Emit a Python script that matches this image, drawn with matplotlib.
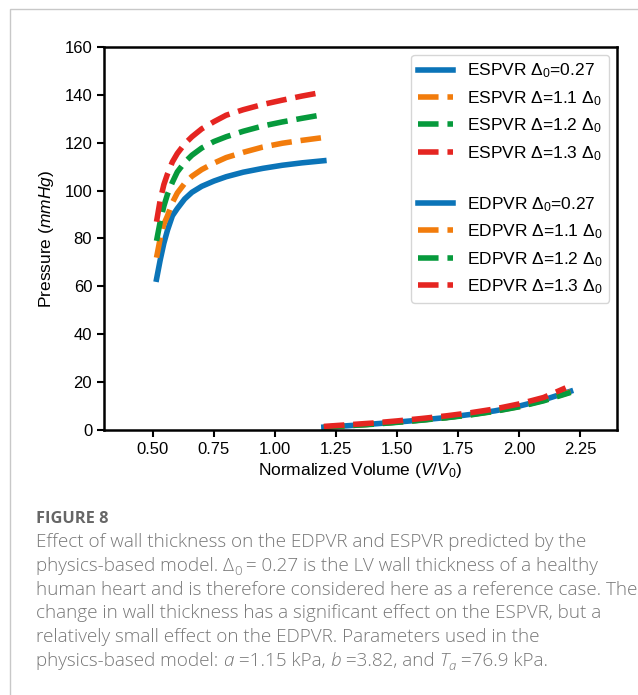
import numpy as np
import matplotlib
matplotlib.use("Agg")
import matplotlib.pyplot as plt
from matplotlib.patches import Rectangle

plt.rcParams['font.family'] = ['Liberation Sans', 'DejaVu Sans']
plt.rcParams['mathtext.fontset'] = 'custom'
plt.rcParams['mathtext.rm'] = 'Liberation Sans'
plt.rcParams['mathtext.it'] = 'Liberation Sans:italic'
plt.rcParams['mathtext.bf'] = 'Liberation Sans:bold'

# ESPVR curves (end-systolic)
es_v = [0.515, 0.53, 0.545, 0.56, 0.58, 0.60, 0.63, 0.66, 0.70, 0.75, 0.80, 0.87, 0.95, 1.03, 1.11, 1.20]
es_p0 = [63, 71, 78, 83.5, 89.5, 92.5, 96.5, 99.3, 101.8, 104, 105.8, 107.7, 109.3, 110.6, 111.6, 112.5]
es_p11 = [72, 80, 86, 89.5, 95, 99, 103, 106, 108.8, 111.5, 113.8, 116, 118.2, 119.8, 121, 122.2]
es_p12 = [79, 87, 93.5, 98.5, 103.5, 107.8, 111.8, 114.8, 117.8, 120.5, 122.5, 124.8, 127, 128.7, 130.2, 131.8]
es_p13 = [87, 96, 102.5, 107, 112, 115.5, 119.5, 122.5, 125.8, 128.8, 131.5, 133.8, 136, 137.8, 139.5, 141.2]

# EDPVR curves (end-diastolic)
ed_v = [1.20, 1.30, 1.40, 1.50, 1.60, 1.70, 1.80, 1.90, 2.00, 2.10, 2.21]
ed_p0 = [1.2, 1.8, 2.5, 3.3, 4.2, 5.2, 6.5, 8.0, 10.0, 12.6, 16.2]
ed_p11 = [1.2, 1.8, 2.5, 3.3, 4.2, 5.2, 6.4, 7.9, 9.8, 12.4, 15.9]
ed_p12 = [1.2, 1.8, 2.4, 3.2, 4.1, 5.1, 6.3, 7.8, 9.7, 12.2, 15.7]
ed_v13 = [1.20, 1.30, 1.40, 1.50, 1.60, 1.70, 1.80, 1.90, 2.00, 2.10, 2.19]
ed_p13 = [1.5, 2.2, 2.9, 3.8, 4.8, 5.9, 7.2, 8.8, 10.9, 13.6, 17.6]

es_lab = [r'ESPVR $\Delta_0$=0.27', r'ESPVR $\Delta$=1.1 $\Delta_0$',
          r'ESPVR $\Delta$=1.2 $\Delta_0$', r'ESPVR $\Delta$=1.3 $\Delta_0$']
ed_lab = [r'EDPVR $\Delta_0$=0.27', r'EDPVR $\Delta$=1.1 $\Delta_0$',
          r'EDPVR $\Delta$=1.2 $\Delta_0$', r'EDPVR $\Delta$=1.3 $\Delta_0$']
cols = ['#0b74b8', '#f27c0c', '#069a3c', '#e52521']
styles = ['-', '--', '--', '--']

# caption lines as (text, style) pieces: n=normal, i=italic, s=subscript, si=italic subscript
caption = [
    [("Effect of wall thickness on the EDPVR and ESPVR predicted by the", 'n')],
    [("physics-based model. \u0394", 'n'), ("0", 's'),
     (" = 0.27 is the LV wall thickness of a healthy", 'n')],
    [("human heart and is therefore considered here as a reference case. The", 'n')],
    [("change in wall thickness has a significant effect on the ESPVR, but a", 'n')],
    [("relatively small effect on the EDPVR. Parameters used in the", 'n')],
    [("physics-based model: ", 'n'), ("a", 'i'), (" =1.15 kPa, ", 'n'), ("b", 'i'),
     (" =3.82, and ", 'n'), ("T", 'i'), ("a", 'si'), (" =76.9 kPa.", 'n')],
]

W, H = 638, 695
fig = plt.figure(figsize=(W/100, H/100), dpi=100)
ax = fig.add_axes([104/W, 1-430/H, (617-104)/W, (430-47)/H])

es_all = [es_p0, es_p11, es_p12, es_p13]
for i in range(4):
    ax.plot(es_v, es_all[i], styles[i], color=cols[i], lw=4, label=es_lab[i])
ax.plot([], [], color='none', label=' ')
ed_x = [ed_v, ed_v, ed_v, ed_v13]
ed_all = [ed_p0, ed_p11, ed_p12, ed_p13]
for i in range(4):
    ax.plot(ed_x[i], ed_all[i], styles[i], color=cols[i], lw=4, label=ed_lab[i])

ax.set_xlim(0.3, 2.4)
ax.set_ylim(0, 160)
ax.set_xticks([0.5, 0.75, 1.0, 1.25, 1.5, 1.75, 2.0, 2.25])
ax.set_yticks(np.arange(0, 161, 20))
ax.tick_params(labelsize=12, width=1.5, length=5, color='black')
for s in ax.spines.values():
    s.set_linewidth(1.8)
ax.set_xlabel(r'Normalized Volume ($V/V_0$)', fontsize=12.5, labelpad=3)
ax.set_ylabel(r'Pressure ($mmHg$)', fontsize=12.5, labelpad=6)

ax.legend(loc='upper right', fontsize=12.5, borderaxespad=0.45)

# light frame around figure
fig.patches.append(Rectangle((10/W, -0.1), 1.2, 1.1 - 9.5/H, transform=fig.transFigure,
                             fill=False, edgecolor='#c8c8c8', lw=1.0))

cfam = ['Open Sans', 'DejaVu Sans']
fig.text(36/W, 1-519/H, "FIGURE 8", fontsize=11.8, fontweight='bold', color='#666666',
         family=cfam, va='center')

rend = fig.canvas.get_renderer()
fs = 13.6
for k, pieces in enumerate(caption):
    x = 36
    y = 542 + 23.8*k + 5   # baseline
    for txt, st in pieces:
        size = fs*0.7 if 's' in st else fs
        yy = y + (4 if 's' in st else 0)
        t = fig.text(x/W, 1-yy/H, txt, fontsize=size, color='#777777', fontweight='light',
                     fontstyle='italic' if 'i' in st else 'normal',
                     family=cfam, va='baseline')
        bb = t.get_window_extent(renderer=rend)
        x += bb.width

fig.savefig('out.png', dpi=100)
